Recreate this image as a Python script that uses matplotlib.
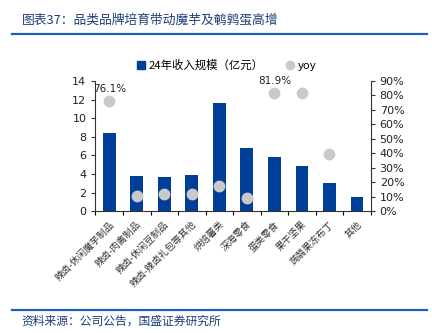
import numpy as np
import matplotlib.pyplot as plt
from matplotlib.lines import Line2D
from matplotlib.patches import Patch

plt.rcParams['font.family'] = ['Noto Sans CJK SC', 'DejaVu Sans']

categories = ['辣卤-休闲魔芋制品', '辣卤-肉禽制品', '辣卤-休闲豆制品', '辣卤-辣卤礼包等其他',
              '烘焙薯类', '深海零食', '蛋类零食', '果干坚果', '蒟蒻果冻布丁', '其他']
revenue = [8.43, 3.80, 3.66, 3.88, 11.66, 6.75, 5.81, 4.84, 3.01, 1.50]
yoy = [76.1, 10.7, 12.1, 12.1, 17.4, 9.3, 81.9, 81.5, 39.5, np.nan]
yoy_labels = {0: '76.1%', 6: '81.9%'}

bar_color = '#003F98'
dot_color = '#C9C9C9'
text_color = '#222222'

fig = plt.figure(figsize=(4.32, 3.33), dpi=100)
ax = fig.add_axes([0.221, 0.366, 0.637, 0.391])
ax2 = ax.twinx()

x = np.arange(len(categories))
ax.bar(x, revenue, width=0.46, color=bar_color, zorder=2)
ax2.plot(x, yoy, 'o', color=dot_color, markersize=7.5, zorder=3)
for i, txt in yoy_labels.items():
    ax2.annotate(txt, (x[i], yoy[i]), xytext=(0, 5), textcoords='offset points',
                 ha='center', va='bottom', fontsize=7.5, color=text_color,
                 family='DejaVu Sans')

ax.set_xlim(-0.5, len(categories) - 0.5)
ax.set_ylim(0, 14)
ax.set_yticks(range(0, 15, 2))
ax2.set_ylim(0, 90)
ax2.set_yticks(range(0, 91, 10))
ax2.set_yticklabels([f'{v}%' for v in range(0, 91, 10)])

ax.set_xticks(np.arange(-0.5, len(categories), 1))
ax.set_xticklabels([])
ax.set_xticks(x, minor=True)
ax.set_xticklabels(categories, minor=True, rotation=45, ha='right',
                   rotation_mode='anchor', fontsize=6.8, color='#333333')
ax.tick_params(axis='x', which='minor', length=0, pad=6)
ax.tick_params(axis='x', which='major', length=3, direction='out')

for a in (ax, ax2):
    a.spines['top'].set_visible(False)
    for s in ('left', 'right', 'bottom'):
        a.spines[s].set_color('#333333')
        a.spines[s].set_linewidth(0.8)
    a.tick_params(axis='y', labelsize=8, length=3, colors='#333333', labelcolor=text_color)
ax.spines['right'].set_visible(False)
ax2.spines['left'].set_visible(False)
ax2.spines['bottom'].set_visible(False)
for lbl in ax.get_yticklabels() + ax2.get_yticklabels():
    lbl.set_family('DejaVu Sans')

handles = [Patch(color=bar_color),
           Line2D([], [], marker='o', linestyle='none', color=dot_color, markersize=6)]
fig.legend(handles, ['24年收入规模（亿元）', 'yoy'], loc='center',
           bbox_to_anchor=(0.525, 0.805), ncol=2, frameon=False, fontsize=8.2,
           handlelength=0.7, handleheight=0.7, handletextpad=0.3, columnspacing=2.0)

# header and footer
fig.text(0.05, 0.94, '图表37：品类品牌培育带动魔芋及鹌鹑蛋高增', fontsize=9.2,
         color='#1F3D7A', style='italic', va='center')
fig.add_artist(Line2D([0.027, 0.988], [0.898, 0.898], color='#1F5FBF', linewidth=1.6))
fig.add_artist(Line2D([0.027, 0.988], [0.068, 0.068], color='#1F5FBF', linewidth=1.6))
fig.text(0.05, 0.035, '资料来源：公司公告，国盛证券研究所', fontsize=8.5,
         color='#1F3D7A', style='italic', va='center')

fig.savefig('out.png', dpi=100)
